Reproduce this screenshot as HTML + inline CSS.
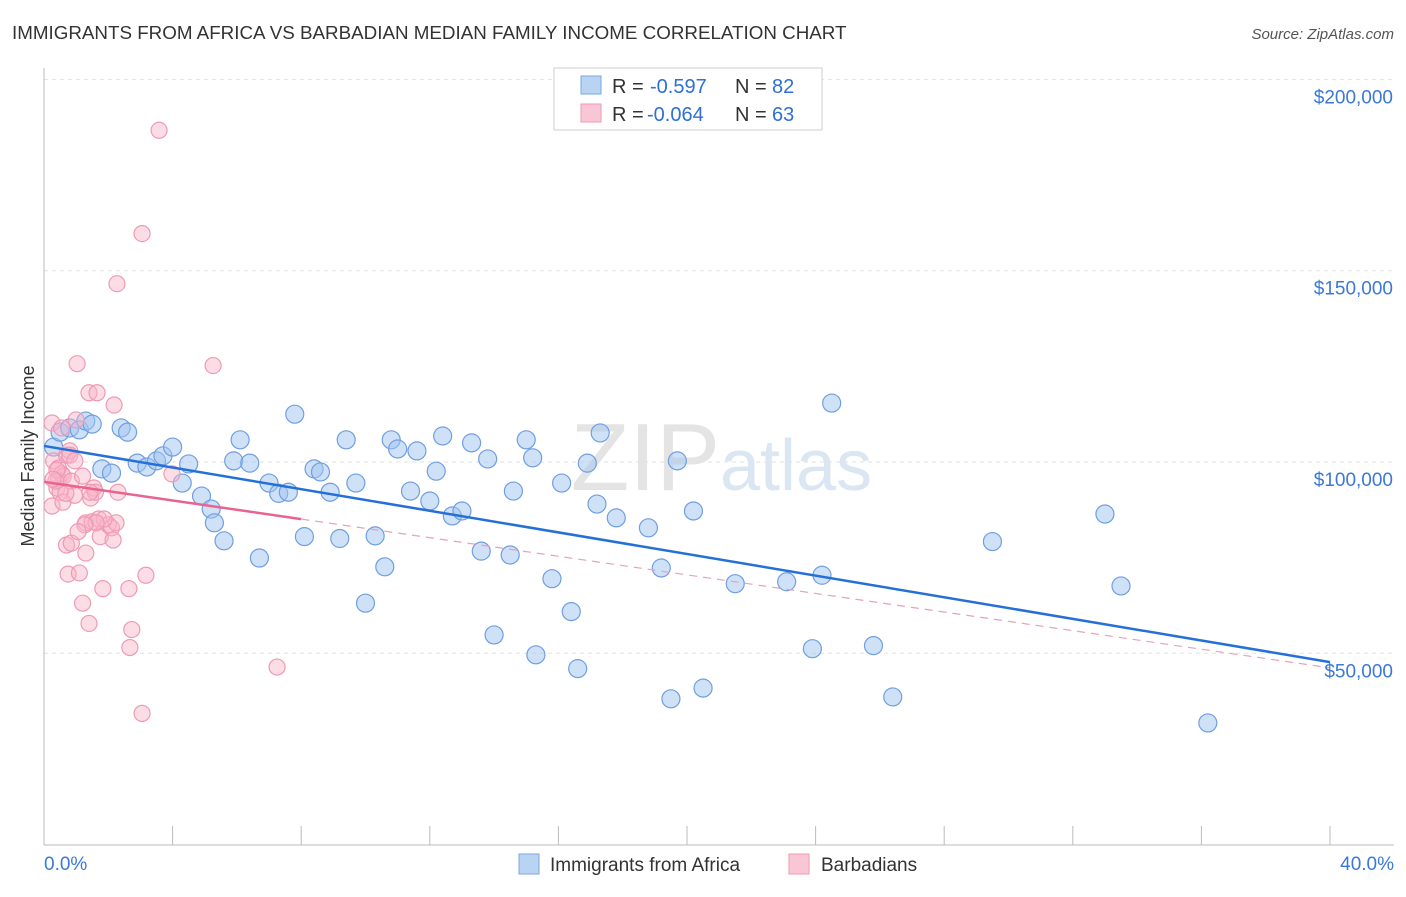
<!DOCTYPE html>
<html><head><meta charset="utf-8"><style>
body{margin:0;background:#fff;font-family:"Liberation Sans",sans-serif}
svg text{font-family:"Liberation Sans",sans-serif}
</style></head><body>
<svg id="chart" width="1406" height="892" xmlns="http://www.w3.org/2000/svg">
<text x="12" y="39" font-size="18.8" fill="#333">IMMIGRANTS FROM AFRICA VS BARBADIAN MEDIAN FAMILY INCOME CORRELATION CHART</text>
<text x="1394" y="39" font-size="15" fill="#555" font-style="italic" text-anchor="end">Source: ZipAtlas.com</text>
<g id="grid"></g>
<text x="720" y="490" font-size="96" fill="#e4e4e4" text-anchor="end" font-family="Liberation Serif">ZIP</text>
<text x="720" y="490" font-size="72" fill="#dbe6f3">atlas</text>
<g id="points"></g>
<g id="lines"></g>
<text transform="translate(34,456) rotate(-90)" font-size="18" fill="#333" text-anchor="middle">Median Family Income</text>
<g id="ticks"></g>
<g>
<rect x="554" y="68" width="268" height="62" fill="#fff" stroke="#ccc"/>
<rect x="581" y="76" width="20" height="18" fill="#b9d3f3" stroke="#7aa7e0"/>
<rect x="581" y="104" width="20" height="18" fill="#f9c6d5" stroke="#ee9ab4"/>
<g font-size="20">
<text x="612" y="93" fill="#333">R =</text><text x="650" y="93" fill="#2f6fd6">-0.597</text>
<text x="735" y="93" fill="#333">N =</text><text x="772" y="93" fill="#2f6fd6">82</text></g>
<g font-size="20">
<text x="612" y="121" fill="#333">R =</text><text x="647" y="121" fill="#2f6fd6">-0.064</text>
<text x="735" y="121" fill="#333">N =</text><text x="772" y="121" fill="#2f6fd6">63</text></g>
</g>
<g>
<rect x="519" y="854" width="20" height="20" fill="#b9d3f3" stroke="#7aa7e0"/>
<text x="550" y="871" font-size="19" fill="#333">Immigrants from Africa</text>
<rect x="789" y="854" width="20" height="20" fill="#f9c6d5" stroke="#ee9ab4"/>
<text x="821" y="871" font-size="19" fill="#333">Barbadians</text>
</g>
</svg>
<script>
const blueX=[0.3,0.5,0.8,1.1,1.3,1.5,1.8,2.1,2.4,2.6,2.9,3.2,3.5,3.7,4,4.3,4.5,4.9,5.2,5.3,5.6,5.9,6.1,6.4,6.7,7,7.3,7.6,7.8,8.1,8.4,8.6,8.9,9.2,9.4,9.7,10,10.3,10.6,10.8,11,11.4,11.6,12,12.2,12.4,12.7,13,13.3,13.6,13.8,14,14.5,14.6,15,15.2,15.3,15.8,16.1,16.4,16.6,16.9,17.2,17.3,17.8,18.8,19.2,19.5,19.7,20.2,20.5,21.5,23.1,23.9,24.2,24.5,25.8,26.4,29.5,33,33.5,36.2];
const blueY=[103.9,107.8,108.9,108.4,110.7,109.9,98.2,97.1,108.9,107.8,99.7,98.7,100.3,101.6,103.9,94.5,99.5,91.1,87.7,84.1,79.4,100.3,105.8,99.7,74.9,94.5,91.8,92.1,112.5,80.5,98.2,97.4,92.1,80,105.8,94.5,63.1,80.7,72.6,105.8,103.4,92.4,102.9,89.8,97.6,106.8,85.9,87.2,105,76.7,100.8,54.8,75.7,92.4,105.8,101.1,49.6,69.5,94.5,60.9,46,99.7,89,107.6,85.4,82.8,72.3,38.1,100.3,87.2,40.9,68.2,68.7,51.2,70.4,115.4,52,38.6,79.2,86.4,67.6,31.8];
const pinkX=[0.25,0.25,0.3,0.4,0.45,0.45,0.55,0.55,0.6,0.7,0.7,0.75,0.8,0.8,0.85,0.85,0.95,1,1.03,1.1,1.2,1.2,1.3,1.3,1.4,1.4,1.45,1.5,1.55,1.6,1.65,1.7,1.75,1.83,2,2.1,2.15,2.18,2.24,2.27,2.3,2.64,2.73,2.67,3.05,3.17,3.05,3.58,3.98,5.26,7.25,0.5,0.4,1.43,0.37,0.59,1.87,1.62,1.27,0.96,0.28,0.68,1.06];
const pinkY=[110.2,88.5,100.3,93.2,98.4,95.3,96.9,108.9,96.3,101.8,78.3,70.7,102.9,101.8,78.8,95,91.3,111,125.7,71,63.1,96.3,76.2,84.1,118.1,57.8,90.6,84.4,93.2,92.1,118.1,85.1,80.5,66.9,83.6,82.8,79.6,114.9,84.1,146.6,92.1,66.9,56.2,51.5,159.7,70.4,34.3,186.7,96.9,125.2,46.4,92.1,97.9,92.1,95,89.5,85.1,84.1,83.6,100.3,95.5,91.8,81.8];
const blueLine=[104.2,47.7], pinkLine=[94.8,46.2];
const yTicks=[50,100,150,200];
const NS='http://www.w3.org/2000/svg';
const X=p=>44+p*(1330-44)/40, Y=v=>462-(v-100)*191.3/50;
function mk(t,a,p){const e=document.createElementNS(NS,t);for(const k in a)e.setAttribute(k,a[k]);p.appendChild(e);return e;}
const grid=document.getElementById('grid'),ticks=document.getElementById('ticks');
yTicks.forEach(v=>{
 const l=mk('line',{x1:44,x2:1394,y1:Y(v),y2:Y(v),stroke:'#e2e2e2','stroke-dasharray':'4,4'},grid);
 
 
 const t=mk('text',{x:1393,y:Y(v)+24,'font-size':19,fill:'#3b78d8','text-anchor':'end'},ticks);
 t.textContent='$'+(v*1000).toLocaleString('en-US');
 
 
});
mk('line',{x1:44,x2:44,y1:68,y2:845,stroke:'#bbb'},grid);
mk('line',{x1:44,x2:1394,y1:845,y2:845,stroke:'#bbb'},grid);
for(let i=1;i<=10;i++){const l=mk('line',{x1:X(i*4),x2:X(i*4),y1:826,y2:845,stroke:'#bbb'},grid);
 
 }
const xl=[['0.0%',44,'start'],['40.0%',1394,'end']];
xl.forEach(d=>{const t=mk('text',{x:d[1],y:870,'font-size':19,fill:'#3b78d8','text-anchor':d[2]},ticks);t.textContent=d[0];
 
 });
const pts=document.getElementById('points');
blueX.forEach((x,i)=>{const c=mk('circle',{cx:X(x),cy:Y(blueY[i]),r:9,fill:'rgba(160,196,240,0.5)',stroke:'#6f9fe0','stroke-width':1.2},pts);
 
 });
pinkX.forEach((x,i)=>{const c=mk('circle',{cx:X(x),cy:Y(pinkY[i]),r:8,fill:'rgba(248,180,200,0.45)',stroke:'#ef9ab5','stroke-width':1.2},pts);
 
 });
const ln=document.getElementById('lines');
const pAt=p=>pinkLine[0]+(pinkLine[1]-pinkLine[0])*p/40;
let a=mk('line',{x1:X(0),y1:Y(pAt(0)),x2:X(8),y2:Y(pAt(8)),stroke:'#e8648f','stroke-width':2.5},ln);


a=mk('line',{x1:X(8),y1:Y(pAt(8)),x2:X(40),y2:Y(pAt(40)),stroke:'#e8a0b8','stroke-width':1.2,'stroke-dasharray':'8,6'},ln);


a=mk('line',{x1:X(0),y1:Y(blueLine[0]),x2:X(40),y2:Y(blueLine[1]),stroke:'#2470d8','stroke-width':2.5},ln);


</script>
</body></html>
